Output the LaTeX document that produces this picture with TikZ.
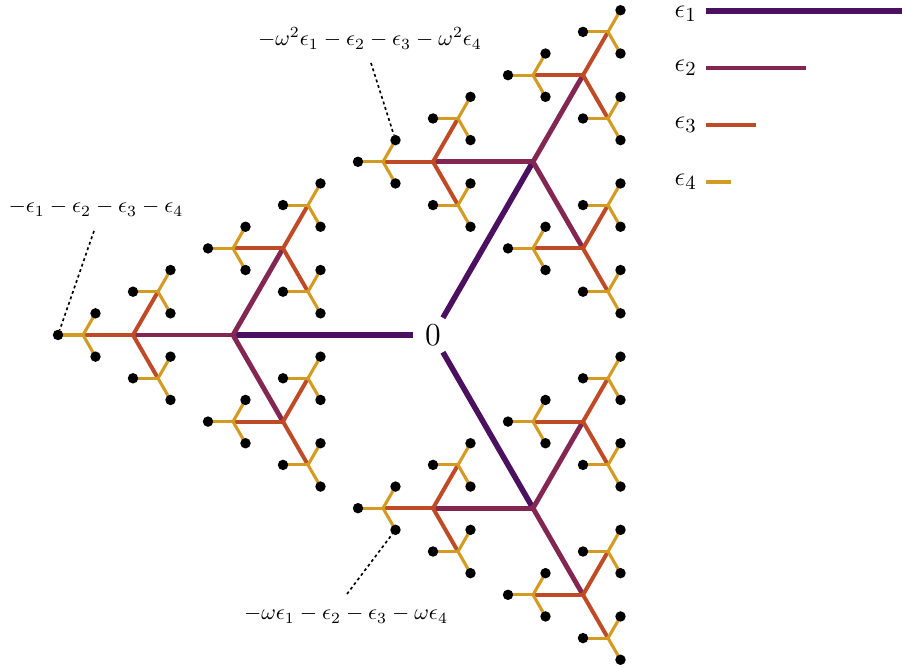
\documentclass[tikz,border=0pt]{standalone}
\usepackage{amsmath,amssymb}
\usetikzlibrary{positioning,calc}
\definecolor{ftcA}{HTML}{4B1060}
\definecolor{ftcB}{HTML}{832651}
\definecolor{ftcC}{HTML}{BF4B26}
\definecolor{ftcD}{HTML}{D49B22}
\tikzset{
  ftone/.style={draw=ftcA, line width=2.5pt},
  fttwo/.style={draw=ftcB, line width=2.2pt},
  ftthree/.style={draw=ftcC, line width=1.8pt},
  ftfour/.style={draw=ftcD, line width=1.4pt},
  ftdot/.style={fill=black},
  ftlabel/.style={font=\normalsize, anchor=base},
  ftpointer/.style={dash pattern=on 1.3pt off 1.3pt, line width=0.75pt, shorten >=2.3pt},
  ftkey/.style={font=\fontsize{13}{15}\selectfont, inner sep=0pt},
}
\newcommand{\FTe}[1]{\epsilon_{#1}}

\begin{document}
\begin{tikzpicture}[x=0.45pt, y=0.45pt]
  \useasboundingbox (0,0) rectangle (902,-668);

  \node[circle, minimum size=17.5pt, inner sep=0pt, font=\fontsize{15}{18}\selectfont] (zero) at (433,-335) {$0$};

  % the tree: every step goes in one of the directions 60, 180, 300
  \foreach \a in {0,1,2} {
    \path (zero.center) ++({60+120*\a}:200) coordinate (t\a);
    \draw[ftone] (zero) -- (t\a);
    \foreach \b in {0,1,2} {
      \path (t\a) ++({60+120*\b}:100) coordinate (t\a\b);
      \draw[fttwo] (t\a) -- (t\a\b);
      \foreach \c in {0,1,2} {
        \path (t\a\b) ++({60+120*\c}:50) coordinate (t\a\b\c);
        \draw[ftthree] (t\a\b) -- (t\a\b\c);
        \foreach \d in {0,1,2} {
          \path (t\a\b\c) ++({60+120*\d}:25) coordinate (t\a\b\c\d);
          \draw[ftfour] (t\a\b\c) -- (t\a\b\c\d);
          \fill[ftdot] (t\a\b\c\d) circle[radius=2.35pt];
        }
      }
    }
  }

  % labelled end points
  \node[ftlabel] (labA) at (370,-46) {$-\omega^2\FTe{1}-\FTe{2}-\FTe{3}-\omega^2\FTe{4}$};
  \node[ftlabel] (labB) at (96,-213) {$-\FTe{1}-\FTe{2}-\FTe{3}-\FTe{4}$};
  \node[ftlabel] (labC) at (346,-620) {$-\omega\FTe{1}-\FTe{2}-\FTe{3}-\omega\FTe{4}$};
  \coordinate (pA) at (371,-63);
  \coordinate (pB) at (94,-231);
  \coordinate (pC) at (347,-594);
  \draw[ftpointer] (pA) -- (t0110);
  \draw[ftpointer] (pB) -- (t1111);
  \draw[ftpointer] (pC) -- (t2112);

  % key
  \coordinate (k1) at (706,-11);
  \coordinate (k2) at (706,-68);
  \coordinate (k3) at (706,-125);
  \coordinate (k4) at (706,-182);
  \coordinate (k1e) at (902,-11);
  \coordinate (k2e) at (806,-68);
  \coordinate (k3e) at (756,-125);
  \coordinate (k4e) at (731,-182);
  \node[ftkey, left=4pt of k1, yshift=-1.2pt] (e1) {$\FTe{1}$};
  \node[ftkey, left=4pt of k2] (e2) {$\FTe{2}$};
  \node[ftkey, left=4pt of k3] (e3) {$\FTe{3}$};
  \node[ftkey, left=4pt of k4] (e4) {$\FTe{4}$};
  \draw[ftone] (k1) -- (k1e);
  \draw[fttwo] (k2) -- (k2e);
  \draw[ftthree] (k3) -- (k3e);
  \draw[ftfour] (k4) -- (k4e);
\end{tikzpicture}
\end{document}
